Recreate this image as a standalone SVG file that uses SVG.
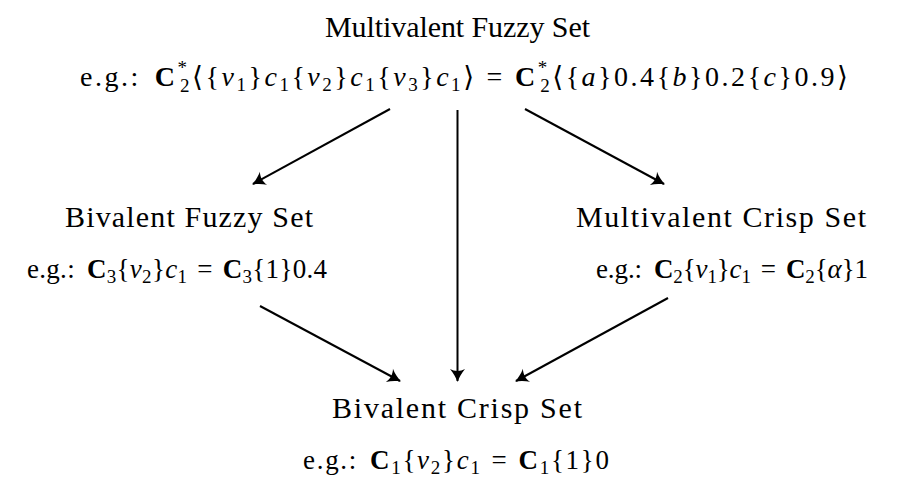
<svg xmlns="http://www.w3.org/2000/svg" width="898" height="493" viewBox="0 0 898 493">
<style>
text{font-family:'Liberation Serif','DejaVu Serif',serif;fill:#000}
.b{font-weight:bold}
.i{font-style:italic}
.s{font-size:19px}
.c{stroke:#000;stroke-width:2;fill:none}
</style>
<defs>
<marker id="ah" viewBox="-13 -8 15 16" refX="0" refY="0" markerWidth="15" markerHeight="16" markerUnits="userSpaceOnUse" orient="auto">
<path d="M1,0 C-3,-1.5 -8,-4 -12,-7.5 C-9.5,-3 -9.5,3 -12,7.5 C-8,4 -3,1.5 1,0 Z" fill="#000"/>
</marker>
</defs>
<rect width="898" height="493" fill="#fff"/>
<g id="connectors">
<line class="c" x1="390" y1="109" x2="253" y2="184" marker-end="url(#ah)"/>
<line class="c" x1="457.5" y1="110" x2="457.5" y2="381" marker-end="url(#ah)"/>
<line class="c" x1="525" y1="109" x2="664" y2="184" marker-end="url(#ah)"/>
<line class="c" x1="260" y1="306" x2="400" y2="381" marker-end="url(#ah)"/>
<line class="c" x1="668" y1="298" x2="516" y2="381" marker-end="url(#ah)"/>
</g>
<g id="multivalent-fuzzy" font-size="28">
<text x="325" y="37" font-size="30" textLength="265">Multivalent Fuzzy Set</text>
<text x="80" y="86" textLength="768">e.g.:<tspan class="b" dx="14">C</tspan><tspan class="s" dy="-12">*</tspan><tspan class="s" dx="-9.5" dy="18">2</tspan><tspan dy="-6">⟨{</tspan><tspan class="i">v</tspan><tspan class="s" dy="5">1</tspan><tspan dy="-5">}</tspan><tspan class="i">c</tspan><tspan class="s" dy="5">1</tspan><tspan dy="-5">{</tspan><tspan class="i">v</tspan><tspan class="s" dy="5">2</tspan><tspan dy="-5">}</tspan><tspan class="i">c</tspan><tspan class="s" dy="5">1</tspan><tspan dy="-5">{</tspan><tspan class="i">v</tspan><tspan class="s" dy="5">3</tspan><tspan dy="-5">}</tspan><tspan class="i">c</tspan><tspan class="s" dy="5">1</tspan><tspan dy="-5">⟩</tspan><tspan dx="10">=</tspan><tspan class="b" dx="10">C</tspan><tspan class="s" dy="-12">*</tspan><tspan class="s" dx="-9.5" dy="18">2</tspan><tspan dy="-6">⟨{</tspan><tspan class="i">a</tspan><tspan>}0.4{</tspan><tspan class="i">b</tspan><tspan>}0.2{</tspan><tspan class="i">c</tspan><tspan>}0.9⟩</tspan></text>
</g>
<g id="bivalent-fuzzy" font-size="27">
<text x="65" y="227" font-size="30" textLength="248">Bivalent Fuzzy Set</text>
<text x="27" y="278" textLength="300">e.g.:<tspan class="b" dx="12">C</tspan><tspan class="s" dy="5">3</tspan><tspan dy="-5">{</tspan><tspan class="i">v</tspan><tspan class="s" dy="5">2</tspan><tspan dy="-5">}</tspan><tspan class="i">c</tspan><tspan class="s" dy="5">1</tspan><tspan dy="-5" dx="10">=</tspan><tspan class="b" dx="10">C</tspan><tspan class="s" dy="5">3</tspan><tspan dy="-5">{1}0.4</tspan></text>
</g>
<g id="multivalent-crisp" font-size="27">
<text x="576" y="227" font-size="30" textLength="290">Multivalent Crisp Set</text>
<text x="596" y="278" textLength="272">e.g.:<tspan class="b" dx="12">C</tspan><tspan class="s" dy="5">2</tspan><tspan dy="-5">{</tspan><tspan class="i">v</tspan><tspan class="s" dy="5">1</tspan><tspan dy="-5">}</tspan><tspan class="i">c</tspan><tspan class="s" dy="5">1</tspan><tspan dy="-5" dx="10">=</tspan><tspan class="b" dx="10">C</tspan><tspan class="s" dy="5">2</tspan><tspan dy="-5">{</tspan><tspan class="i">α</tspan><tspan>}1</tspan></text>
</g>
<g id="bivalent-crisp" font-size="27">
<text x="332" y="418" font-size="30" textLength="250">Bivalent Crisp Set</text>
<text x="303" y="469" textLength="306">e.g.:<tspan class="b" dx="12">C</tspan><tspan class="s" dy="5">1</tspan><tspan dy="-5">{</tspan><tspan class="i">v</tspan><tspan class="s" dy="5">2</tspan><tspan dy="-5">}</tspan><tspan class="i">c</tspan><tspan class="s" dy="5">1</tspan><tspan dy="-5" dx="10">=</tspan><tspan class="b" dx="10">C</tspan><tspan class="s" dy="5">1</tspan><tspan dy="-5">{1}0</tspan></text>
</g>
</svg>
